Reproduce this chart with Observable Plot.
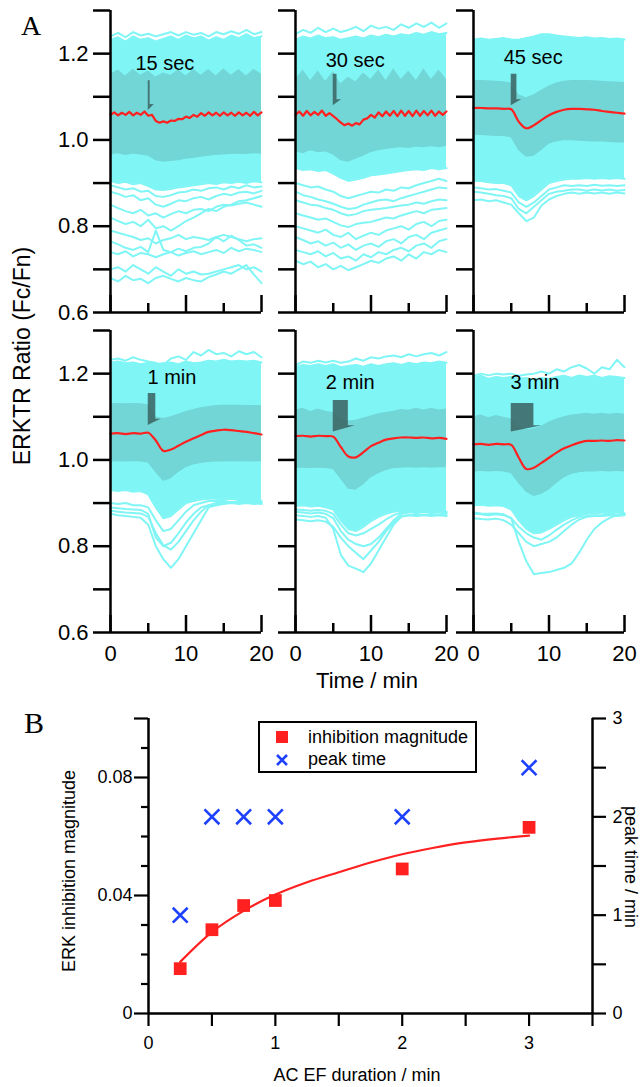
<!DOCTYPE html>
<html><head><meta charset="utf-8">
<script src="https://cdn.jsdelivr.net/npm/d3@7"></script>
<script src="https://cdn.jsdelivr.net/npm/@observablehq/plot@0.6"></script>
<style>
body{margin:0;background:#fff;font-family:"Liberation Sans",Arial,sans-serif;}
#root{position:relative;width:642px;height:1087px;overflow:hidden;background:#fff;}
.abs{position:absolute;white-space:nowrap;color:#000;line-height:1;}
.panel{position:absolute;}
</style></head><body><div id="root"></div>
<script>
// ---------------- DATA ----------------
const timeGrid = [0,1,2,3,4,5,6,7,8,9,10,11,12,13,14,15,16,17,18,19,20];
const timeFine = [0,0.5,1,1.5,2,2.5,3,3.5,4,4.5,5,5.5,6,6.5,7,7.5,8,8.5,9,9.5,10,10.5,11,11.5,12,12.5,13,13.5,14,14.5,15,15.5,16,16.5,17,17.5,18,18.5,19,19.5,20];
const stimLabels = ["15 sec","30 sec","45 sec","1 min","2 min","3 min"];
const stimDuration = [0.25,0.5,0.75,1,2,3];
const yTickValues = [0.6,0.7,0.8,0.9,1.0,1.1,1.2,1.3];
const yTickLabels = [0.6,0.8,1.0,1.2];
const xTickValues = [0,5,10,15,20];
const xTickLabels = [0,10,20];

// 15 sec
const mean15s = [1.058,1.064,1.057,1.063,1.058,1.065,1.057,1.063,1.058,1.066,1.056,1.058,1.044,1.040,1.043,1.040,1.045,1.044,1.049,1.048,1.054,1.051,1.058,1.054,1.062,1.056,1.064,1.057,1.063,1.056,1.064,1.057,1.063,1.056,1.064,1.057,1.063,1.056,1.065,1.057,1.064];
const sdHi15s = [1.152,1.162,1.148,1.164,1.15,1.16,1.146,1.155,1.15,1.162,1.148,1.164,1.15,1.163,1.149,1.165,1.15,1.163,1.148,1.164,1.152];
const sdLo15s = [0.965,0.968,0.964,0.967,0.965,0.962,0.952,0.948,0.95,0.952,0.955,0.957,0.96,0.962,0.964,0.965,0.966,0.967,0.966,0.968,0.967];
const envHi15s = [1.232,1.238,1.228,1.24,1.232,1.236,1.228,1.234,1.24,1.232,1.242,1.235,1.24,1.23,1.238,1.232,1.242,1.236,1.245,1.236,1.24];
const envLo15s = [0.905,0.9,0.903,0.897,0.9,0.893,0.885,0.884,0.886,0.89,0.892,0.895,0.897,0.9,0.898,0.902,0.9,0.903,0.9,0.904,0.902];
const traces15s = [
  [1.24,1.248,1.238,1.25,1.242,1.246,1.24,1.245,1.25,1.242,1.25,1.244,1.248,1.24,1.25,1.245,1.252,1.246,1.255,1.245,1.25],
  [0.895,0.89,0.885,0.888,0.88,0.882,0.87,0.868,0.872,0.878,0.88,0.885,0.882,0.888,0.89,0.885,0.892,0.888,0.895,0.89,0.892],
  [0.88,0.875,0.868,0.872,0.86,0.865,0.85,0.845,0.852,0.86,0.858,0.865,0.868,0.862,0.87,0.875,0.872,0.878,0.88,0.876,0.882],
  [0.85,0.842,0.835,0.83,0.838,0.825,0.83,0.82,0.828,0.835,0.83,0.838,0.84,0.835,0.845,0.85,0.848,0.852,0.855,0.85,0.845],
  [0.82,0.812,0.805,0.81,0.8,0.815,0.795,0.8,0.79,0.8,0.812,0.82,0.83,0.84,0.835,0.845,0.85,0.858,0.86,0.865,0.87],
  [0.79,0.785,0.78,0.775,0.768,0.772,0.76,0.768,0.772,0.78,0.77,0.775,0.772,0.768,0.775,0.78,0.775,0.77,0.765,0.77,0.772],
  [0.765,0.758,0.75,0.745,0.752,0.74,0.79,0.745,0.74,0.748,0.742,0.75,0.752,0.76,0.775,0.765,0.778,0.768,0.755,0.758,0.75],
  [0.74,0.735,0.742,0.73,0.738,0.735,0.728,0.735,0.74,0.732,0.738,0.742,0.735,0.74,0.745,0.738,0.75,0.742,0.748,0.745,0.74],
  [0.7,0.705,0.695,0.71,0.7,0.69,0.705,0.695,0.685,0.7,0.69,0.695,0.688,0.69,0.695,0.7,0.705,0.71,0.7,0.705,0.695],
  [0.68,0.672,0.685,0.675,0.678,0.668,0.68,0.685,0.678,0.672,0.68,0.675,0.672,0.682,0.688,0.695,0.69,0.7,0.71,0.688,0.668]
];

// 30 sec
const mean30s = [1.058,1.066,1.056,1.067,1.057,1.065,1.058,1.068,1.056,1.062,1.055,1.048,1.040,1.034,1.038,1.033,1.039,1.036,1.047,1.050,1.058,1.052,1.064,1.055,1.066,1.056,1.067,1.055,1.068,1.056,1.067,1.055,1.068,1.056,1.067,1.057,1.068,1.056,1.066,1.058,1.066];
const sdHi30s = [1.14,1.162,1.138,1.16,1.136,1.158,1.13,1.145,1.135,1.155,1.14,1.162,1.138,1.165,1.14,1.16,1.138,1.165,1.14,1.162,1.14];
const sdLo30s = [0.972,0.968,0.975,0.97,0.972,0.965,0.952,0.948,0.955,0.962,0.97,0.975,0.978,0.98,0.982,0.98,0.983,0.982,0.984,0.982,0.985];
const envHi30s = [1.232,1.24,1.235,1.242,1.236,1.238,1.232,1.236,1.24,1.235,1.242,1.238,1.244,1.24,1.245,1.242,1.248,1.244,1.25,1.245,1.248];
const envLo30s = [0.935,0.93,0.932,0.928,0.93,0.922,0.912,0.905,0.908,0.912,0.918,0.92,0.922,0.925,0.928,0.93,0.932,0.93,0.935,0.932,0.935];
const traces30s = [
  [1.245,1.255,1.248,1.26,1.25,1.258,1.25,1.255,1.262,1.252,1.265,1.258,1.262,1.255,1.268,1.26,1.27,1.262,1.272,1.26,1.27],
  [0.9,0.895,0.89,0.892,0.885,0.88,0.87,0.865,0.87,0.875,0.88,0.878,0.885,0.882,0.89,0.888,0.895,0.9,0.905,0.91,0.905],
  [0.88,0.872,0.868,0.862,0.858,0.852,0.845,0.84,0.842,0.85,0.855,0.86,0.862,0.858,0.865,0.87,0.875,0.88,0.885,0.89,0.888],
  [0.86,0.855,0.85,0.848,0.842,0.838,0.83,0.825,0.828,0.835,0.838,0.84,0.842,0.845,0.848,0.85,0.855,0.852,0.858,0.862,0.86],
  [0.83,0.825,0.82,0.815,0.818,0.81,0.802,0.798,0.805,0.808,0.81,0.815,0.82,0.818,0.825,0.83,0.835,0.83,0.838,0.84,0.842],
  [0.8,0.795,0.79,0.785,0.792,0.78,0.775,0.785,0.77,0.778,0.785,0.78,0.79,0.795,0.8,0.792,0.805,0.81,0.8,0.812,0.815],
  [0.775,0.768,0.76,0.765,0.755,0.762,0.75,0.758,0.745,0.755,0.76,0.752,0.765,0.77,0.76,0.775,0.78,0.77,0.785,0.79,0.795],
  [0.745,0.74,0.735,0.742,0.73,0.738,0.725,0.73,0.72,0.735,0.728,0.74,0.735,0.745,0.75,0.742,0.755,0.76,0.75,0.765,0.77],
  [0.72,0.712,0.718,0.705,0.712,0.7,0.708,0.698,0.705,0.712,0.72,0.715,0.725,0.73,0.72,0.735,0.725,0.74,0.735,0.745,0.74]
];

// 45 sec
const mean45s = [1.074,1.074,1.073,1.073,1.072,1.071,1.042,1.027,1.034,1.046,1.057,1.065,1.07,1.072,1.072,1.071,1.07,1.067,1.065,1.063,1.061];
const sdHi45s = [1.138,1.138,1.137,1.136,1.135,1.132,1.105,1.098,1.105,1.115,1.125,1.132,1.136,1.138,1.138,1.138,1.137,1.136,1.135,1.134,1.133];
const sdLo45s = [1.01,1.01,1.009,1.008,1.008,1.005,0.975,0.96,0.962,0.975,0.99,0.995,0.998,0.998,0.997,0.996,0.995,0.995,0.994,0.993,0.993];
const envHi45s = [1.232,1.235,1.232,1.234,1.236,1.233,1.232,1.236,1.24,1.245,1.245,1.242,1.24,1.238,1.236,1.238,1.235,1.236,1.234,1.235,1.233];
const envLo45s = [0.905,0.905,0.902,0.9,0.9,0.895,0.87,0.86,0.87,0.885,0.9,0.905,0.908,0.91,0.91,0.912,0.91,0.912,0.91,0.912,0.91];
const traces45s = [
  [0.88,0.878,0.875,0.872,0.87,0.865,0.84,0.83,0.845,0.86,0.875,0.88,0.882,0.885,0.885,0.882,0.885,0.883,0.885,0.882,0.884],
  [0.86,0.862,0.858,0.86,0.855,0.85,0.83,0.812,0.82,0.848,0.862,0.87,0.875,0.878,0.875,0.878,0.876,0.878,0.875,0.878,0.876],
  [0.89,0.888,0.885,0.886,0.882,0.878,0.855,0.845,0.855,0.87,0.885,0.89,0.895,0.893,0.895,0.893,0.896,0.894,0.895,0.893,0.895]
];

// 1 min
const mean1m = [1.061,1.062,1.06,1.062,1.061,1.063,1.045,1.021,1.024,1.033,1.042,1.05,1.058,1.065,1.068,1.07,1.069,1.067,1.065,1.062,1.059];
const sdHi1m = [1.13,1.131,1.13,1.131,1.13,1.128,1.1,1.096,1.1,1.106,1.112,1.117,1.121,1.124,1.126,1.127,1.127,1.127,1.126,1.126,1.126];
const sdLo1m = [0.995,0.996,0.995,0.996,0.995,0.993,0.97,0.95,0.956,0.97,0.982,0.988,0.992,0.994,0.995,0.995,0.996,0.995,0.996,0.995,0.996];
const envHi1m = [1.225,1.228,1.224,1.226,1.222,1.225,1.222,1.224,1.226,1.222,1.228,1.224,1.226,1.23,1.228,1.232,1.228,1.23,1.228,1.23,1.226];
const envLo1m = [0.93,0.928,0.93,0.926,0.928,0.92,0.89,0.865,0.87,0.885,0.9,0.905,0.908,0.91,0.91,0.908,0.91,0.908,0.905,0.905,0.902];
const traces1m = [
  [1.232,1.235,1.23,1.238,1.232,1.228,1.225,1.22,1.235,1.24,1.232,1.25,1.242,1.255,1.245,1.248,1.24,1.252,1.245,1.25,1.238],
  [0.89,0.888,0.886,0.885,0.884,0.875,0.82,0.8,0.808,0.83,0.855,0.875,0.89,0.895,0.895,0.898,0.9,0.898,0.9,0.898,0.9],
  [0.875,0.872,0.87,0.868,0.866,0.85,0.8,0.77,0.75,0.77,0.8,0.83,0.86,0.89,0.895,0.9,0.9,0.902,0.9,0.9,0.898],
  [0.882,0.88,0.878,0.877,0.876,0.868,0.83,0.802,0.792,0.81,0.835,0.86,0.88,0.895,0.9,0.9,0.902,0.9,0.902,0.9,0.902],
  [0.9,0.898,0.9,0.895,0.895,0.89,0.86,0.835,0.84,0.86,0.88,0.895,0.9,0.905,0.905,0.905,0.902,0.905,0.905,0.902,0.905]
];

// 2 min
const mean2m = [1.055,1.056,1.054,1.056,1.055,1.054,1.03,1.008,1.006,1.018,1.032,1.04,1.047,1.05,1.052,1.052,1.051,1.052,1.05,1.051,1.049];
const sdHi2m = [1.115,1.12,1.112,1.118,1.113,1.11,1.095,1.09,1.092,1.097,1.102,1.107,1.11,1.113,1.117,1.115,1.12,1.116,1.12,1.116,1.118];
const sdLo2m = [0.98,0.981,0.98,0.981,0.98,0.978,0.955,0.932,0.93,0.942,0.958,0.968,0.975,0.98,0.981,0.982,0.981,0.982,0.981,0.982,0.982];
const envHi2m = [1.215,1.22,1.218,1.222,1.218,1.222,1.215,1.218,1.22,1.216,1.222,1.218,1.222,1.224,1.22,1.225,1.222,1.226,1.224,1.228,1.225];
const envLo2m = [0.893,0.895,0.892,0.894,0.89,0.885,0.86,0.84,0.835,0.845,0.858,0.868,0.875,0.88,0.882,0.88,0.882,0.88,0.882,0.878,0.88];
const traces2m = [
  [1.22,1.228,1.225,1.23,1.226,1.23,1.225,1.228,1.235,1.23,1.238,1.235,1.24,1.242,1.238,1.245,1.24,1.245,1.248,1.242,1.25],
  [0.872,0.87,0.868,0.87,0.866,0.84,0.78,0.755,0.748,0.74,0.76,0.79,0.82,0.85,0.868,0.872,0.875,0.872,0.875,0.873,0.872],
  [0.862,0.86,0.858,0.86,0.857,0.845,0.82,0.8,0.785,0.77,0.79,0.81,0.835,0.855,0.87,0.872,0.87,0.872,0.87,0.872,0.87],
  [0.88,0.878,0.876,0.878,0.875,0.865,0.835,0.815,0.805,0.8,0.805,0.82,0.84,0.86,0.875,0.878,0.88,0.878,0.88,0.878,0.876],
  [0.885,0.884,0.882,0.884,0.882,0.875,0.85,0.83,0.825,0.83,0.84,0.85,0.862,0.872,0.878,0.88,0.882,0.88,0.883,0.88,0.878]
];

// 3 min
const mean3m = [1.036,1.037,1.035,1.037,1.036,1.035,1.005,0.979,0.982,0.993,1.005,1.017,1.027,1.034,1.04,1.044,1.044,1.045,1.044,1.046,1.045];
const sdHi3m = [1.1,1.104,1.098,1.103,1.099,1.095,1.075,1.07,1.072,1.078,1.088,1.095,1.1,1.104,1.106,1.108,1.106,1.108,1.106,1.108,1.106];
const sdLo3m = [0.972,0.973,0.972,0.973,0.972,0.968,0.945,0.925,0.915,0.92,0.93,0.945,0.958,0.966,0.97,0.972,0.972,0.973,0.972,0.973,0.972];
const envHi3m = [1.19,1.195,1.188,1.192,1.19,1.192,1.188,1.19,1.186,1.19,1.188,1.192,1.195,1.19,1.196,1.192,1.195,1.19,1.194,1.192,1.19];
const envLo3m = [0.895,0.896,0.894,0.895,0.893,0.885,0.86,0.84,0.83,0.832,0.84,0.85,0.86,0.868,0.872,0.875,0.876,0.878,0.876,0.878,0.876];
const traces3m = [
  [1.195,1.2,1.196,1.2,1.198,1.2,1.195,1.198,1.2,1.205,1.2,1.21,1.205,1.215,1.22,1.212,1.2,1.215,1.21,1.232,1.215],
  [0.878,0.876,0.875,0.876,0.874,0.865,0.81,0.765,0.735,0.738,0.74,0.745,0.75,0.76,0.785,0.815,0.84,0.855,0.865,0.872,0.876],
  [0.865,0.863,0.862,0.864,0.86,0.85,0.83,0.81,0.8,0.805,0.81,0.82,0.835,0.85,0.862,0.868,0.87,0.87,0.872,0.87,0.872],
  [0.875,0.874,0.872,0.874,0.872,0.865,0.845,0.83,0.82,0.815,0.825,0.838,0.85,0.86,0.868,0.87,0.872,0.872,0.875,0.872,0.874]
];

// Panel B
const acDuration = [0.25,0.5,0.75,1,2,3];
const inhibitionMagnitude = [0.0152,0.0284,0.0366,0.0383,0.049,0.0631];
const peakTime = [1,2,2,2,2,2.5];
const fitDuration = [0.25,0.5,0.75,1,1.25,1.5,1.75,2,2.25,2.5,2.75,3];
const fitMagnitude = [0.0175,0.0276,0.0348,0.0403,0.0445,0.0479,0.0512,0.054,0.0562,0.058,0.0593,0.0603];
const leftTicksB = [0,0.01,0.02,0.03,0.04,0.05,0.06,0.07,0.08,0.09,0.1];
const leftLabelsB = [0,0.04,0.08];
const rightTicksB = [0,0.5,1,1.5,2,2.5,3];
const rightLabelsB = [0,1,2,3];
const bottomTicksB = [0,0.5,1,1.5,2,2.5,3,3.5];
const bottomLabelsB = [0,1,2,3];

// ---------------- STYLE / LAYOUT ----------------
const CYAN = "#80f5f5", BAND = "#72d6d6", RED = "#ff2020", ARROW = "#3b6666", BLUE = "#1e40ff";
const FONT = "'Liberation Sans', Arial, sans-serif";
const root = document.getElementById("root");

const panels = [
  {mean: mean15s, meanT: timeFine, sdHi: sdHi15s, sdLo: sdLo15s, envHi: envHi15s, envLo: envLo15s, traces: traces15s, row: 0, col: 0, lx: 3.3, ly: 1.178, aTop: 1.137, aBot: 1.068},
  {mean: mean30s, meanT: timeFine, sdHi: sdHi30s, sdLo: sdLo30s, envHi: envHi30s, envLo: envLo30s, traces: traces30s, row: 0, col: 1, lx: 4.0, ly: 1.184, aTop: 1.152, aBot: 1.079},
  {mean: mean45s, meanT: timeGrid, sdHi: sdHi45s, sdLo: sdLo45s, envHi: envHi45s, envLo: envLo45s, traces: traces45s, row: 0, col: 2, lx: 4.0, ly: 1.19, aTop: 1.152, aBot: 1.079},
  {mean: mean1m, meanT: timeGrid, sdHi: sdHi1m, sdLo: sdLo1m, envHi: envHi1m, envLo: envLo1m, traces: traces1m, row: 1, col: 0, lx: 4.9, ly: 1.19, aTop: 1.154, aBot: 1.08},
  {mean: mean2m, meanT: timeGrid, sdHi: sdHi2m, sdLo: sdLo2m, envHi: envHi2m, envLo: envLo2m, traces: traces2m, row: 1, col: 1, lx: 4.0, ly: 1.18, aTop: 1.138, aBot: 1.065},
  {mean: mean3m, meanT: timeGrid, sdHi: sdHi3m, sdLo: sdLo3m, envHi: envHi3m, envLo: envLo3m, traces: traces3m, row: 1, col: 2, lx: 4.9, ly: 1.18, aTop: 1.131, aBot: 1.065}
];
const axisXpos = [110, 295, 473];
const frameTop = [10, 330];
const FW = 151, FH = 302, ML = 60, MR = 16;
const stimStart = 5;

panels.forEach((p, i) => {
  const showX = p.row === 1, showY = p.col === 0;
  const mT = 10, mB = showX ? 40 : 6;
  const pxX = FW / 20, pxY = FH / 0.7;
  const dur = stimDuration[i];
  const L = stimStart, R = stimStart + dur, Rt = R + 0.5 + 0.2 * dur;
  const rb = p.aBot + 0.014;
  const ybR = p.aBot + (rb - p.aBot) * (R - L) / (Rt - L);
  const arrowX = [L, R, R, Rt], arrowY2 = [p.aTop, p.aTop, rb, rb], arrowY1 = [p.aBot, ybR, ybR, rb];
  const marks = [
    Plot.areaY(timeGrid, {x: timeGrid, y1: p.envLo, y2: p.envHi, fill: CYAN}),
    ...[p.envLo, p.envHi, ...p.traces].map(arr => Plot.line(timeGrid, {x: timeGrid, y: arr, stroke: CYAN, strokeWidth: 2})),
    Plot.areaY(timeGrid, {x: timeGrid, y1: p.sdLo, y2: p.sdHi, fill: BAND}),
    Plot.areaY(arrowX, {x: arrowX, y1: arrowY1, y2: arrowY2, fill: ARROW, fillOpacity: 0.88}),
    Plot.line(p.meanT, {x: p.meanT, y: p.mean, stroke: RED, strokeWidth: 2.2, curve: p.meanT === timeFine ? "linear" : "catmull-rom"}),
    Plot.text([stimLabels[i]], {x: p.lx, y: p.ly, text: d => d, textAnchor: "start", fontSize: 20, fill: "black"}),
    Plot.ruleY(yTickValues, {y: d => d, x1: -17 / pxX, x2: 0, stroke: "black", strokeWidth: 2.5}),
    Plot.ruleY([0.6], {x1: 0, x2: 20, stroke: "black", strokeWidth: 2.5}),
    Plot.ruleX([0], {y1: 0.6, y2: 1.3, stroke: "black", strokeWidth: 2.5}),
    Plot.ruleX(xTickValues, {x: d => d, y1: 0.6, y2: d => 0.6 + (xTickLabels.includes(d) ? 17 : 9) / pxY, stroke: "black", strokeWidth: 2.5})
  ];
  if (showY) marks.push(Plot.text(yTickLabels, {x: 0, y: d => d, text: d => d.toFixed(1), dx: -22, textAnchor: "end", fontSize: 22, fill: "black"}));
  if (showX) marks.push(Plot.text(xTickLabels, {x: d => d, y: 0.6, text: d => String(d), dy: 21, fontSize: 22, fill: "black"}));
  const svg = Plot.plot({
    width: ML + FW + MR, height: mT + FH + mB,
    marginLeft: ML, marginRight: MR, marginTop: mT, marginBottom: mB,
    x: {domain: [0, 20], axis: null}, y: {domain: [0.6, 1.3], axis: null},
    style: {background: "transparent", overflow: "visible", fontFamily: FONT},
    marks
  });
  svg.classList.add("panel");
  svg.style.left = (axisXpos[p.col] - ML) + "px";
  svg.style.top = (frameTop[p.row] - mT) + "px";
  root.appendChild(svg);
});

// ---- Panel B ----
(function(){
  const W = 642, H = 397, mL = 148, mR = 50, mT = 28, mB = 74;
  const fw = W - mL - mR, fh = H - mT - mB;
  const pxX = fw / 3.5, pxY = fh / 0.1;
  const k = 0.1 / 3;
  const svg = Plot.plot({
    width: W, height: H, marginLeft: mL, marginRight: mR, marginTop: mT, marginBottom: mB,
    x: {domain: [0, 3.5], axis: null}, y: {domain: [0, 0.1], axis: null},
    style: {background: "transparent", overflow: "visible", fontFamily: FONT},
    marks: [
      Plot.line(fitDuration, {x: fitDuration, y: fitMagnitude, stroke: RED, strokeWidth: 2.2, curve: "catmull-rom"}),
      Plot.dot(acDuration, {x: acDuration, y: inhibitionMagnitude, symbol: "square", r: 7.2, fill: RED, stroke: "none"}),
      Plot.dot(acDuration, {x: acDuration, y: peakTime.map(v => v * k), symbol: "times", r: 6.8, stroke: BLUE, strokeWidth: 2.6, fill: "none"}),
      Plot.ruleX([0, 3.5], {y1: 0, y2: 0.1, stroke: "black", strokeWidth: 2.5}),
      Plot.ruleY([0], {x1: 0, x2: 3.5, stroke: "black", strokeWidth: 2.5}),
      Plot.ruleY(leftTicksB, {y: d => d, x1: d => -(leftLabelsB.includes(d) || d === 0.1 ? 14 : 7) / pxX, x2: 0, stroke: "black", strokeWidth: 2.2}),
      Plot.ruleY(rightTicksB.map(v => v * k), {y: d => d, x1: 3.5, x2: 3.5 + 14 / pxX, stroke: "black", strokeWidth: 2.2}),
      Plot.ruleX(bottomTicksB, {x: d => d, y1: 0, y2: -13 / pxY, stroke: "black", strokeWidth: 2.2}),
      Plot.text(leftLabelsB, {x: 0, y: d => d, text: d => d === 0 ? "0" : d.toFixed(2), dx: -16, textAnchor: "end", fontSize: 18, fill: "black"}),
      Plot.text(rightLabelsB, {x: 3.5, y: d => d * k, text: d => String(d), dx: 20, textAnchor: "start", fontSize: 18, fill: "black"}),
      Plot.text(bottomLabelsB, {x: d => d, y: 0, text: d => String(d), dy: 30, fontSize: 18, fill: "black"})
    ]
  });
  svg.classList.add("panel");
  svg.style.left = "0px";
  svg.style.top = "690px";
  root.appendChild(svg);
})();

// ---- HTML text ----
function addText(txt, css){
  const d = document.createElement("div");
  d.className = "abs";
  d.textContent = txt;
  Object.assign(d.style, css);
  root.appendChild(d);
  return d;
}
addText("A", {left: "21px", top: "12px", fontFamily: "'Liberation Serif','Times New Roman',serif", fontSize: "28px"});
addText("B", {left: "24px", top: "708px", fontFamily: "'Liberation Serif','Times New Roman',serif", fontSize: "30px"});
addText("ERKTR Ratio (Fc/Fn)", {left: "22px", top: "356px", fontSize: "23px", transform: "translate(-50%,-50%) rotate(-90deg)"});
addText("Time / min", {left: "367px", top: "681px", fontSize: "22px", transform: "translate(-50%,-50%)"});
addText("ERK inhibition magnitude", {left: "69px", top: "871px", fontSize: "18px", transform: "translate(-50%,-50%) rotate(-90deg)"});
addText("AC EF duration / min", {left: "357px", top: "1075px", fontSize: "18px", transform: "translate(-50%,-50%)"});
addText("peak time / min", {left: "631px", top: "867px", fontSize: "18px", transform: "translate(-50%,-50%) rotate(90deg)"});

// legend
const lg = document.createElement("div");
Object.assign(lg.style, {position: "absolute", left: "258px", top: "721px", width: "219px", height: "52px", border: "2px solid #000", boxSizing: "border-box", background: "#fff"});
lg.innerHTML =
  '<div style="position:absolute;left:16px;top:8px;width:12px;height:12px;background:' + RED + '"></div>' +
  '<div class="abs" style="left:48px;top:5px;font-size:18px">inhibition magnitude</div>' +
  '<svg style="position:absolute;left:15px;top:30px" width="14" height="14"><path d="M2,2L12,12M2,12L12,2" stroke="' + BLUE + '" stroke-width="2.6" fill="none"/></svg>' +
  '<div class="abs" style="left:48px;top:27px;font-size:18px">peak time</div>';
root.appendChild(lg);
</script>
</body></html>
